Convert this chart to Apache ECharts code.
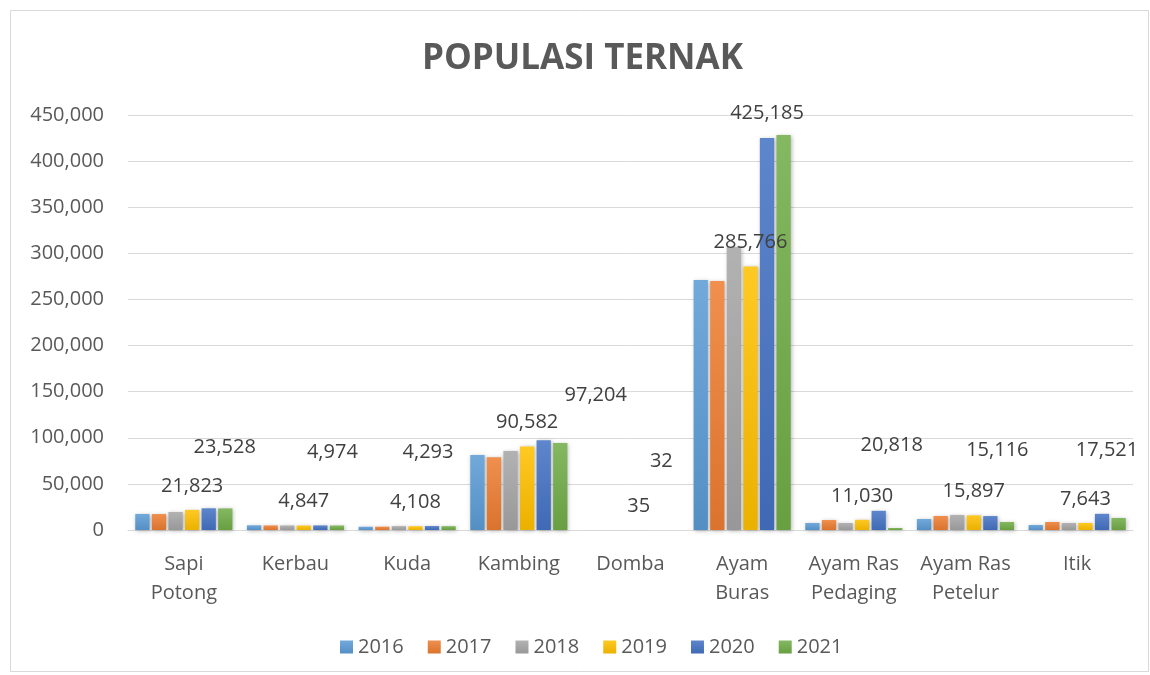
<!DOCTYPE html>
<html>
<head>
<meta charset="utf-8">
<script src="https://cdn.jsdelivr.net/npm/echarts@6/dist/echarts.min.js"></script>
<style>
  html, body { margin: 0; padding: 0; background: #ffffff; }
  #chart { width: 1150px; height: 675px; }
</style>
</head>
<body>
<div id="chart"></div>
<script>
// ---- data ----
const categories = ['Sapi\nPotong', 'Kerbau', 'Kuda', 'Kambing', 'Domba', 'Ayam\nBuras', 'Ayam Ras\nPedaging', 'Ayam Ras\nPetelur', 'Itik'];
const years = ['2016', '2017', '2018', '2019', '2020', '2021'];
const v2016 = [17400, 5100, 3500, 81300, 40, 271000, 7600, 11900, 5400];
const v2017 = [17300, 4950, 3600, 78800, 38, 270000, 10800, 15200, 8700];
const v2018 = [19500, 4900, 4200, 85700, 37, 307000, 7600, 16300, 7600];
const v2019 = [21823, 4847, 4108, 90582, 35, 285766, 11030, 15897, 7643];
const v2020 = [23528, 4974, 4293, 97204, 32, 425185, 20818, 15116, 17521];
const v2021 = [23400, 4850, 4150, 94300, 30, 428400, 2200, 8700, 13000];
const yTicks = { min: 0, max: 450000, interval: 50000 };

// ---- styling ----
const FONT = "'Open Sans', sans-serif";
const baseColors = ['#5B9BD5', '#ED7D31', '#A5A5A5', '#FFC000', '#4472C4', '#70AD47'];
function shade(hex, amt) {
  const n = parseInt(hex.slice(1), 16);
  let r = (n >> 16) & 255, g = (n >> 8) & 255, b = n & 255;
  const f = c => Math.max(0, Math.min(255, Math.round(amt >= 0 ? c + (255 - c) * amt : c * (1 + amt))));
  return 'rgb(' + f(r) + ',' + f(g) + ',' + f(b) + ')';
}
function grad(hex) {
  return { type: 'linear', x: 0, y: 0, x2: 0, y2: 1,
    colorStops: [{ offset: 0, color: shade(hex, 0.14) }, { offset: 1, color: shade(hex, -0.08) }] };
}
const fmt = v => Number(v).toLocaleString('en-US');
// manual label shifts for the 2020 labels (as placed in the original)
const shift2020 = [[16, -37], [12, -49], [-4, -50], [52, -21], [6, -45], [0, -1], [13, -42], [7, -42], [5, -40]];

const seriesValues = [v2016, v2017, v2018, v2019, v2020, v2021];
const labelStyle = { color: '#404040', fontSize: 20, fontFamily: FONT, formatter: p => fmt(p.value) };

const series = seriesValues.map((vals, i) => {
  const s = {
    name: years[i], type: 'bar', barGap: '16%', barCategoryGap: '13%',
    itemStyle: { color: grad(baseColors[i]), shadowColor: 'rgba(0,0,0,0.28)', shadowBlur: 4, shadowOffsetX: 1, shadowOffsetY: 1 },
    data: vals.slice()
  };
  if (i === 3) {
    s.label = Object.assign({ show: true, position: 'top', distance: 14 }, labelStyle);
  }
  if (i === 4) {
    s.data = vals.map((v, k) => ({ value: v, label: Object.assign({ show: true, position: 'top', distance: 14, offset: shift2020[k] }, labelStyle) }));
  }
  return s;
});

const chart = echarts.init(document.getElementById('chart'), null, { renderer: 'canvas' });
chart.setOption({
  animation: false,
  backgroundColor: '#ffffff',
  textStyle: { fontFamily: FONT },
  title: {
    text: 'POPULASI TERNAK', left: 417, top: 37,
    textStyle: { fontFamily: FONT, fontSize: 35, fontWeight: 'bold', color: '#595959' }
  },
  graphic: [{
    type: 'rect', silent: true, z: -1,
    shape: { x: 10.5, y: 10.5, width: 1138, height: 661 },
    style: { fill: 'none', stroke: '#d9d9d9', lineWidth: 1 }
  }],
  legend: {
    data: years, left: 335, top: 632, itemWidth: 13, itemHeight: 13, itemGap: 24,
    icon: 'rect',
    textStyle: { fontFamily: FONT, fontSize: 20, color: '#595959', padding: [0, 0, 0, 0] }
  },
  grid: { left: 128, right: 17, top: 115, bottom: 145 },
  xAxis: {
    type: 'category', data: categories,
    axisLine: { lineStyle: { color: '#d9d9d9', width: 1 } },
    axisTick: { show: false },
    axisLabel: { fontFamily: FONT, fontSize: 20, color: '#595959', margin: 20, lineHeight: 29, interval: 0 }
  },
  yAxis: {
    type: 'value', min: yTicks.min, max: yTicks.max, interval: yTicks.interval,
    axisLine: { show: false }, axisTick: { show: false },
    splitLine: { lineStyle: { color: '#d9d9d9', width: 1 } },
    axisLabel: { fontFamily: FONT, fontSize: 20, color: '#595959', margin: 24, formatter: v => fmt(v) }
  },
  series: series
});
</script>
</body>
</html>
